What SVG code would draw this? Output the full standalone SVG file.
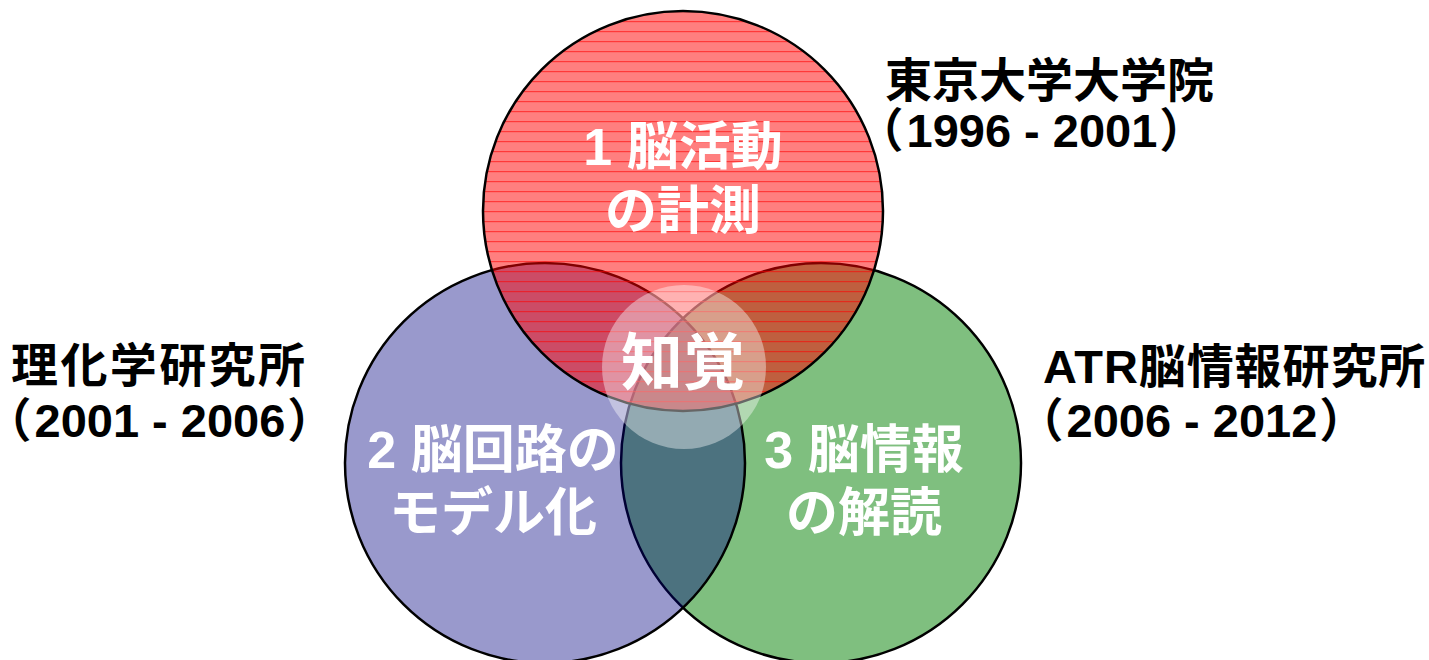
<svg xmlns="http://www.w3.org/2000/svg" width="1429" height="660" viewBox="0 0 1429 660">
  <style>
    .lbl { font-family: "Liberation Sans", "Noto Sans CJK JP", sans-serif; font-weight: bold; }
    .in { fill: #ffffff; font-size: 52px; text-anchor: middle; }
    .out { fill: #000000; font-size: 47px; }
    .yrs { font-feature-settings: "palt" 1; }
    .ring { stroke: #000000; stroke-width: 2.5; }
  </style>
  <defs>
    <pattern id="stripes" patternUnits="userSpaceOnUse" x="0" y="0" width="10" height="10">
      <rect x="0" y="1" width="10" height="1.2" fill="#ff0000" fill-opacity="0.55"/>
    </pattern>
  </defs>
  <rect width="1429" height="660" fill="#ffffff"/>

  <g id="node-green">
    <circle class="ring" cx="821" cy="463" r="200" fill="#008000" fill-opacity="0.5"/>
  </g>
  <g id="node-blue">
    <circle class="ring" cx="545" cy="463" r="200" fill="#000080" fill-opacity="0.4"/>
  </g>
  <g id="node-red">
    <circle cx="683" cy="211" r="200" fill="#ff0000" fill-opacity="0.5"/>
    <circle class="ring" cx="683" cy="211" r="200" fill="url(#stripes)"/>
  </g>
  <g id="node-center">
    <circle cx="684" cy="367" r="82" fill="#ffffff" fill-opacity="0.4"/>
  </g>

  <g id="labels-inner">
    <text class="lbl in" x="683" y="165">1 脳活動</text>
    <text class="lbl in" x="683" y="229">の計測</text>
    <text class="lbl in" x="493" y="468">2 脳回路の</text>
    <text class="lbl in" x="493" y="531">モデル化</text>
    <text class="lbl in" x="864" y="468">3 脳情報</text>
    <text class="lbl in" x="864" y="531">の解読</text>
    <text class="lbl" x="683" y="385" fill="#ffffff" font-size="62" text-anchor="middle">知覚</text>
  </g>

  <g id="label-tokyo">
    <text class="lbl out" x="885" y="97">東京大学大学院</text>
    <text class="lbl out yrs" x="878" y="147">（<tspan dx="5">1996 - 2001</tspan><tspan dx="4">）</tspan></text>
  </g>
  <g id="label-riken">
    <text class="lbl out" x="11" y="382" letter-spacing="2.4">理化学研究所</text>
    <text class="lbl out yrs" x="6" y="437">（<tspan dx="5">2001 - 2006</tspan><tspan dx="4">）</tspan></text>
  </g>
  <g id="label-atr">
    <text class="lbl out" x="1043" y="383" letter-spacing="0.9">ATR脳情報研究所</text>
    <text class="lbl out yrs" x="1038" y="437">（<tspan dx="5">2006 - 2012</tspan><tspan dx="4">）</tspan></text>
  </g>

  <g id="connectors"></g>
</svg>
